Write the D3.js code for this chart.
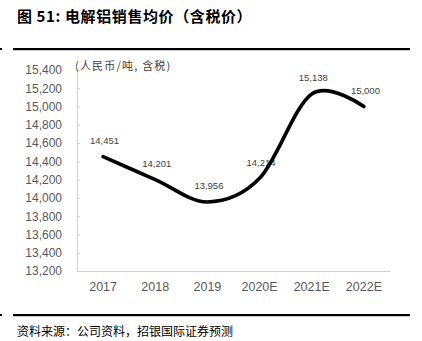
<!DOCTYPE html>
<html><head><meta charset="utf-8">
<script src="https://cdn.jsdelivr.net/npm/d3@7"></script>
<style>
html,body{margin:0;padding:0;background:#fff;}
svg{display:block;}
</style></head>
<body>
<script>
const categories = ["2017","2018","2019","2020E","2021E","2022E"];
const prices = [14451, 14201, 13956, 14214, 15138, 15000];
const priceLabels = ["14,451","14,201","13,956","14,214","15,138","15,000"];
const yTicks = [13200,13400,13600,13800,14000,14200,14400,14600,14800,15000,15200,15400];
const titleText = "图 51: 电解铝销售均价（含税价）";
const unitText = "(人民币/吨, 含税)";
const sourceText = "资料来源：公司资料，招银国际证券预测";

const W = 422, H = 341;
const svg = d3.select("body").append("svg").attr("width", W).attr("height", H);
const latin = "'Liberation Sans', Arial, sans-serif";
const cjk = "'Noto Sans CJK SC', sans-serif";

// title
svg.append("text").attr("x", 17).attr("y", 21.5)
  .attr("font-family", cjk).attr("font-weight", "bold").attr("font-size", 15)
  .attr("letter-spacing", 0.6)
  .attr("fill", "#000").text(titleText);

// rules
svg.append("rect").attr("x", 13).attr("y", 48).attr("width", 397).attr("height", 2.2).attr("fill", "#000");
svg.append("rect").attr("x", 13).attr("y", 314).attr("width", 397).attr("height", 2.2).attr("fill", "#000");
svg.append("rect").attr("x", 0).attr("y", 48).attr("width", 2).attr("height", 2).attr("fill", "#000");
svg.append("rect").attr("x", 0).attr("y", 314).attr("width", 2).attr("height", 2).attr("fill", "#000");

// source
svg.append("text").attr("x", 17).attr("y", 336)
  .attr("font-family", cjk).attr("font-size", 12).attr("fill", "#000").text(sourceText);

// scales
const x = d3.scaleBand().domain(categories).range([77, 390]);
const y = d3.scaleLinear().domain([13200, 15400]).range([271, 70]);

// y axis
const yAxis = d3.axisRight(y).tickValues(yTicks).tickSize(3).tickFormat(d3.format(","));
const gy = svg.append("g").attr("transform", "translate(77,0)").call(yAxis);
gy.select(".domain").attr("stroke", "#d0d0d0").attr("d", "M0.5," + y(15400) + "V" + y(13200));
gy.selectAll(".tick line").attr("stroke", "#d0d0d0");
gy.selectAll(".tick text").attr("x", -15).attr("text-anchor", "end")
  .attr("font-family", latin).attr("font-size", 12).attr("fill", "#595959");

// x axis
const xAxis = d3.axisBottom(x).tickSize(0).tickPadding(0);
const gx = svg.append("g").attr("transform", "translate(0," + y(13200) + ")").call(xAxis);
gx.select(".domain").attr("stroke", "#d0d0d0");
gx.selectAll(".tick text").attr("dy", null).attr("y", 19.5)
  .attr("font-family", latin).attr("font-size", 12.5).attr("fill", "#595959");

// unit label
svg.append("text").attr("x", 75).attr("y", 70)
  .attr("font-family", cjk).attr("font-size", 11).attr("letter-spacing", 1.2)
  .attr("fill", "#404040").text(unitText);

// line
const pts = categories.map((c, i) => ({c, v: prices[i], l: priceLabels[i]}));
const line = d3.line()
  .x(d => x(d.c) + x.bandwidth() / 2)
  .y(d => y(d.v))
  .curve(d3.curveCardinal.tension(0));

// data labels (drawn before line so line overlaps them as in reference)
svg.append("g").selectAll("text").data(pts).enter().append("text")
  .attr("x", d => x(d.c) + x.bandwidth() / 2 + 1.5)
  .attr("y", d => y(d.v) - 16)
  .attr("dy", "0.35em")
  .attr("text-anchor", "middle")
  .attr("font-family", latin).attr("font-size", 9.5).attr("fill", "#404040")
  .text(d => d.l);

svg.append("path").datum(pts).attr("d", line)
  .attr("fill", "none").attr("stroke", "#000").attr("stroke-width", 3.6)
  .attr("stroke-linecap", "round").attr("stroke-linejoin", "round");
</script>
</body></html>
